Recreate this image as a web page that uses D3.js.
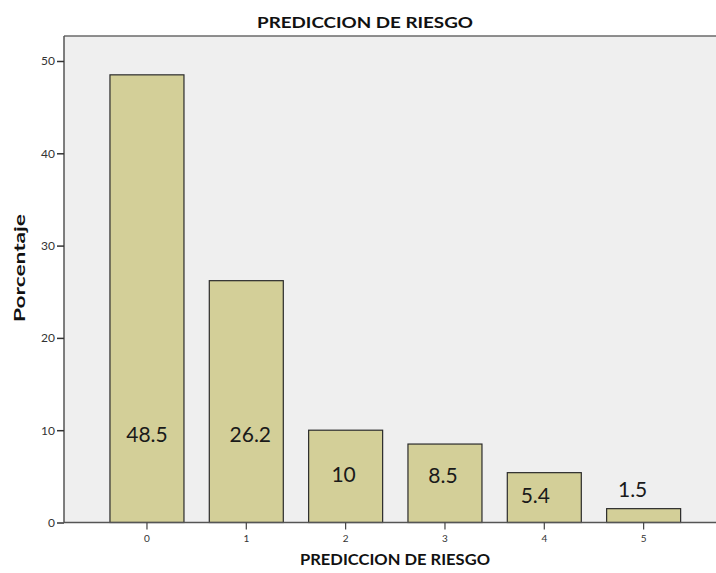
<!DOCTYPE html>
<html>
<head>
<meta charset="utf-8">
<script src="https://cdn.jsdelivr.net/npm/d3@7"></script>
<style>
  body { margin: 0; background: #fff; }
  svg { display: block; font-family: Lato, "Open Sans", sans-serif; }
</style>
</head>
<body>
<div id="chart"></div>
<script>
// Datos
const categorias = ['0', '1', '2', '3', '4', '5'];
const porcentajes = [48.5, 26.2, 10, 8.5, 5.4, 1.5];
const etiquetas = ['48.5', '26.2', '10', '8.5', '5.4', '1.5'];
const yTicks = [0, 10, 20, 30, 40, 50];

// Posición de las etiquetas (en unidades del eje y) y desplazamiento horizontal
const etiquetaY = [8.75, 8.75, 4.4, 4.3, 2.15, 2.8];
const etiquetaDx = [0, 4, -2, -2, -9, -11];

const width = 716, height = 573;
const plot = { left: 64, top: 36, right: 716, bottom: 522.5 };

const svg = d3.select('#chart')
  .append('svg')
  .attr('width', width)
  .attr('height', height);

// Escalas
const x = d3.scaleBand()
  .domain(categorias)
  .range([97.3, 693.3])
  .paddingInner(0.255)
  .paddingOuter(0.1275);

const y = d3.scaleLinear()
  .domain([0, 50])
  .range([plot.bottom, 61]);

// Fondo del área
svg.append('rect')
  .attr('x', plot.left)
  .attr('y', plot.top)
  .attr('width', plot.right - plot.left)
  .attr('height', plot.bottom - plot.top)
  .attr('fill', '#efefef');

// Barras
svg.selectAll('rect.bar')
  .data(porcentajes)
  .join('rect')
  .attr('class', 'bar')
  .attr('x', (d, i) => x(categorias[i]))
  .attr('y', d => y(d))
  .attr('width', x.bandwidth())
  .attr('height', d => y(0) - y(d))
  .attr('fill', '#d3cf98')
  .attr('stroke', '#2b2b2b')
  .attr('stroke-width', 1.2);

// Borde superior
svg.append('line')
  .attr('x1', plot.left).attr('x2', plot.right)
  .attr('y1', plot.top).attr('y2', plot.top)
  .attr('stroke', '#6a6a6a').attr('stroke-width', 1.5);

// Eje Y
const yAxis = svg.append('g')
  .attr('transform', `translate(${plot.left},0)`)
  .call(d3.axisLeft(y).tickValues(yTicks).tickSize(7).tickPadding(2));
yAxis.select('.domain')
  .attr('d', `M0,${plot.top}V${plot.bottom}`)
  .attr('stroke', '#555').attr('stroke-width', 1.5);
yAxis.selectAll('.tick line').attr('stroke', '#333').attr('stroke-width', 1.5);
yAxis.selectAll('.tick text')
  .attr('font-size', 12)
  .attr('fill', '#333')
  .attr('font-family', 'Lato, sans-serif');

// Eje X
const xAxis = svg.append('g')
  .attr('transform', `translate(0,${plot.bottom})`)
  .call(d3.axisBottom(x).tickSize(7).tickPadding(5));
xAxis.select('.domain')
  .attr('d', `M${plot.left},0H${plot.right}`)
  .attr('stroke', '#555').attr('stroke-width', 1.5);
xAxis.selectAll('.tick line').attr('stroke', '#444').attr('stroke-width', 1.2);
xAxis.selectAll('.tick text')
  .attr('font-size', 10)
  .attr('fill', '#333')
  .attr('font-family', 'Lato, sans-serif');

// Etiquetas de valores
svg.selectAll('text.valor')
  .data(etiquetas)
  .join('text')
  .attr('class', 'valor')
  .attr('x', (d, i) => x(categorias[i]) + x.bandwidth() / 2 + etiquetaDx[i])
  .attr('y', (d, i) => y(etiquetaY[i]))
  .attr('text-anchor', 'middle')
  .attr('font-size', 21)
  .attr('fill', '#1a1a1a')
  .text(d => d);

// Título
svg.append('text')
  .attr('x', 365)
  .attr('y', 28)
  .attr('text-anchor', 'middle')
  .attr('font-size', 16)
  .attr('font-weight', 700)
  .attr('textLength', 216)
  .attr('lengthAdjust', 'spacingAndGlyphs')
  .attr('fill', '#111')
  .text('PREDICCION DE RIESGO');

// Título eje X
svg.append('text')
  .attr('x', 395)
  .attr('y', 565)
  .attr('text-anchor', 'middle')
  .attr('font-size', 15)
  .attr('font-weight', 700)
  .attr('textLength', 190)
  .attr('lengthAdjust', 'spacingAndGlyphs')
  .attr('fill', '#111')
  .text('PREDICCION DE RIESGO');

// Título eje Y
svg.append('text')
  .attr('transform', 'translate(25,268) rotate(-90)')
  .attr('text-anchor', 'middle')
  .attr('font-size', 15)
  .attr('font-weight', 700)
  .attr('textLength', 108)
  .attr('lengthAdjust', 'spacingAndGlyphs')
  .attr('fill', '#111')
  .text('Porcentaje');
</script>
</body>
</html>
